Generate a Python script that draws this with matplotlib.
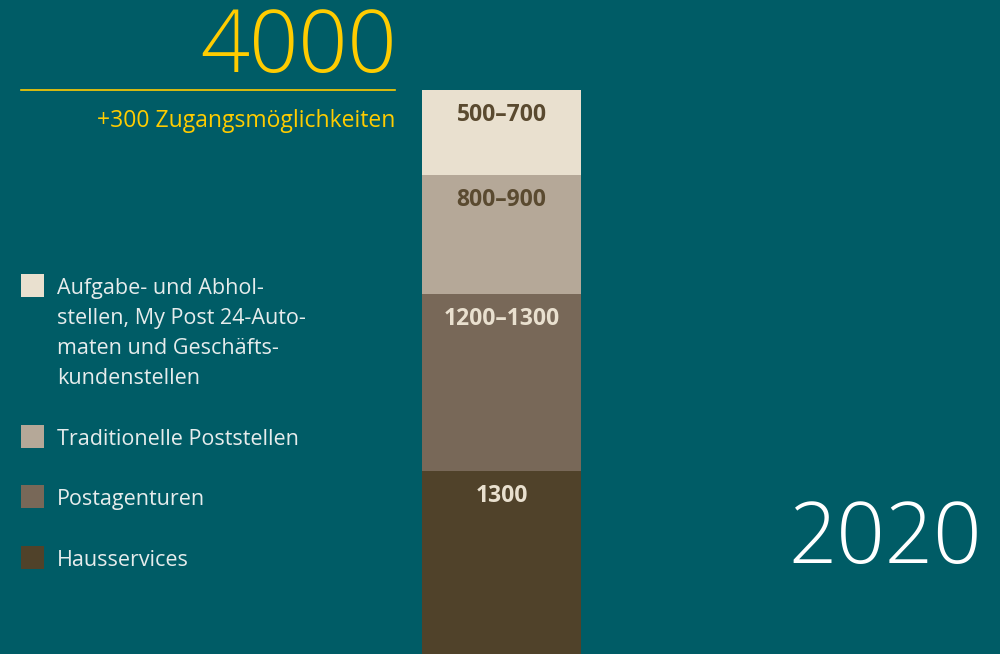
import matplotlib
matplotlib.use("Agg")
import matplotlib.pyplot as plt
from matplotlib.patches import Rectangle

# ---- data ----
categories = [
    "Hausservices",
    "Postagenturen",
    "Traditionelle Poststellen",
    "Aufgabe- und Abhol-\nstellen, My Post 24-Auto-\nmaten und Geschäfts-\nkundenstellen",
]
values = [1300, 1250, 850, 600]          # midpoints of ranges (bottom -> top)
value_labels = ["1300", "1200–1300", "800–900", "500–700"]
total_label = "4000"
total_sub = "+300 Zugangsmöglichkeiten"
year_label = "2020"

# ---- style ----
BG = "#005c66"
YELLOW = "#ffcc00"
seg_colors = ["#50422a", "#786858", "#b5a898", "#e9e0cf"]
label_colors = ["#e9e0cf", "#e9e0cf", "#5a4a30", "#5a4a30"]
FONT = ["Open Sans", "DejaVu Sans"]
plt.rcParams["font.family"] = FONT

W, H = 1000, 654
fig = plt.figure(figsize=(W / 100, H / 100), dpi=100, facecolor=BG)

def fx(x):
    return x / W

def fy(y):
    return 1 - y / H

# bar axes: spans bottom (y=654) to top of bar (y=90)
ax = fig.add_axes([fx(422), 0, fx(581) - fx(422), (H - 90) / H])
ax.set_facecolor(BG)
ax.set_xlim(0, 1)
ax.set_ylim(0, sum(values))
ax.axis("off")

bottom = 0
for v, c, lab, lc in zip(values, seg_colors, value_labels, label_colors):
    ax.bar(0.5, v, width=1.0, bottom=bottom, color=c, edgecolor="none")
    top = bottom + v
    ax.annotate(lab, xy=(0.5, top), xytext=(0, -25 * 0.72), textcoords="offset points",
                ha="center", va="center", fontsize=16.5, fontweight="bold", color=lc)
    bottom = top

# total figure
fig.text(fx(397), fy(72), total_label, ha="right", va="baseline",
         fontsize=62, color=YELLOW, fontweight="light")
fig.add_artist(plt.Line2D([fx(21), fx(395)], [fy(90), fy(90)], color=YELLOW, lw=1.2))
fig.text(fx(395), fy(127), total_sub, ha="right", va="baseline",
         fontsize=16.5, color=YELLOW)

# year
fig.text(fx(982), fy(563), year_label, ha="right", va="baseline",
         fontsize=61, color="white", fontweight="light")

# legend
leg_tops = [546, 485, 425, 274]   # same order as categories
leg_base = [566, 505, 445, 384]   # baseline of last text line
for cat, c, t, b in zip(categories, seg_colors, leg_tops, leg_base):
    fig.add_artist(Rectangle((fx(21), fy(t + 23)), fx(23), 23 / H,
                             transform=fig.transFigure, facecolor=c, edgecolor="none"))
    fig.text(fx(57), fy(b), cat, ha="left", va="baseline",
             fontsize=15.5, color="#e6ecec", linespacing=1.57)

fig.savefig("out.png", dpi=100, facecolor=BG)
